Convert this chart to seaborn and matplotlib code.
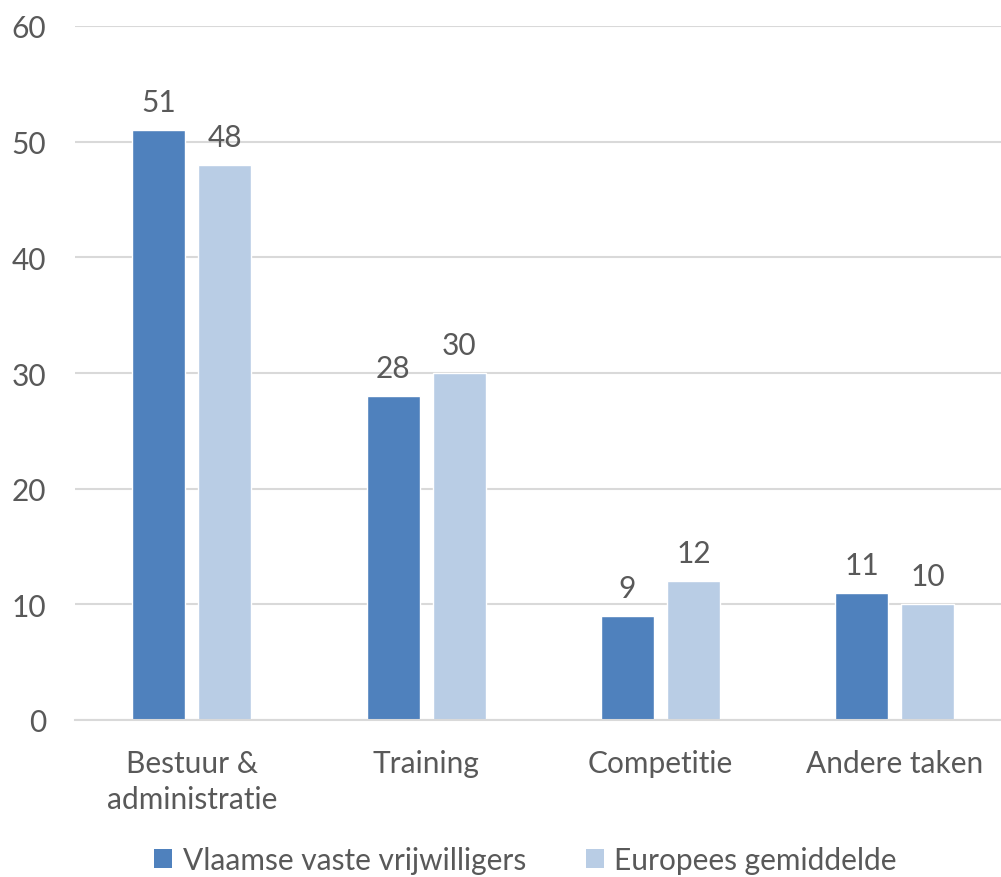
import matplotlib
matplotlib.use("Agg")
import matplotlib.pyplot as plt
import seaborn as sns
import pandas as pd
from matplotlib.patches import Patch

categories = ["Bestuur &\nadministratie", "Training", "Competitie", "Andere taken"]
series_names = ["Vlaamse vaste vrijwilligers", "Europees gemiddelde"]
vlaams = [51, 28, 9, 11]
europees = [48, 30, 12, 10]
yticks = [0, 10, 20, 30, 40, 50, 60]
colors = ["#4F81BD", "#B9CDE5"]

df = pd.DataFrame({
    "cat": categories * 2,
    "serie": [series_names[0]] * 4 + [series_names[1]] * 4,
    "val": vlaams + europees,
})

sns.set_theme(style="white")
plt.rcParams['font.family'] = ['Lato', 'DejaVu Sans']
txt = "#595959"
fs = 21.5

fig = plt.figure(figsize=(10.01, 8.78), dpi=100)
ax = fig.add_axes([74.5 / 1001, 157 / 878, 937.5 / 1001, 694 / 878])
sns.barplot(data=df, x="cat", y="val", hue="serie", palette=colors,
            width=0.563, gap=0.197, ax=ax, legend=False, saturation=1)

ax.set_ylim(0, 60)
ax.set_yticks(yticks)
ax.set_xlim(-0.5, 3.5)
ax.yaxis.grid(True, color="#D9D9D9", lw=1.5)
ax.set_axisbelow(True)
for s in ["top", "right", "left"]:
    ax.spines[s].set_visible(False)
ax.spines["bottom"].set_color("#D9D9D9")
ax.spines["bottom"].set_linewidth(1.5)
ax.tick_params(axis="both", length=0, labelsize=fs, colors=txt)
ax.tick_params(axis="y", pad=20.5)
ax.tick_params(axis="x", pad=21)
ax.set_xlabel("")
ax.set_ylabel("")
for lab in ax.get_xticklabels():
    lab.set_linespacing(1.32)

for cont in ax.containers:
    ax.bar_label(cont, fmt="%d", padding=10, fontsize=fs, color=txt)

handles = [Patch(facecolor=c, edgecolor="none") for c in colors]
fig.legend(handles, series_names, loc="center", bbox_to_anchor=(0.525, 16.5 / 878),
           ncol=2, frameon=False, fontsize=fs, labelcolor=txt, handlelength=0.6,
           handleheight=0.6, handletextpad=0.35, columnspacing=2.0)

fig.savefig("out.png", dpi=100)
